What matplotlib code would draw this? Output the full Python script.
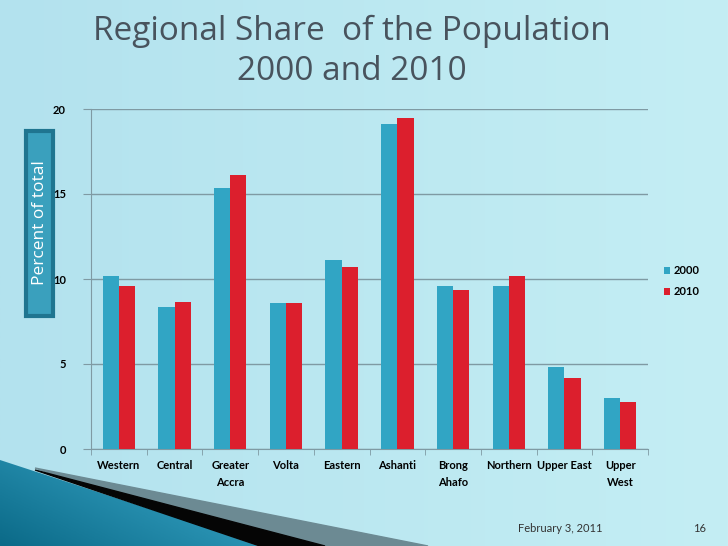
import numpy as np
import matplotlib
matplotlib.use('Agg')
import matplotlib.pyplot as plt
from matplotlib.patches import Rectangle, Polygon

regions = ['Western', 'Central', 'Greater\nAccra', 'Volta', 'Eastern', 'Ashanti',
           'Brong\nAhafo', 'Northern', 'Upper East', 'Upper\nWest']
share_2000 = [10.2, 8.35, 15.35, 8.6, 11.1, 19.1, 9.6, 9.6, 4.85, 3.0]
share_2010 = [9.6, 8.65, 16.1, 8.6, 10.7, 19.5, 9.35, 10.2, 4.2, 2.75]
yticks = [0, 5, 10, 15, 20]

plt.rcParams['font.family'] = ['Lato', 'DejaVu Sans']

fig = plt.figure(figsize=(7.28, 5.46), dpi=100)
W, H = 728, 546

# slide background (soft gradient)
bg = fig.add_axes([0, 0, 1, 1], zorder=-10)
grad = np.linspace(0, 1, 256).reshape(1, -1)
bg.imshow(grad, extent=[0, W, H, 0], aspect='auto',
          cmap=matplotlib.colors.LinearSegmentedColormap.from_list('bgc', ['#b3e2ee', '#c4eef4']))
bg.set_xlim(0, W)
bg.set_ylim(H, 0)
bg.axis('off')

# decorative swoosh bottom-left
bg.add_patch(Polygon([(35, 468), (428, 546), (260, 546)], closed=True, color='#6c8a93'))
bg.add_patch(Polygon([(35, 470), (325, 546), (260, 546)], closed=True, color='#050505'))
blue = Polygon([(0, 460), (0, 546), (263, 546)], closed=True, facecolor='none', edgecolor='none')
bg.add_patch(blue)
yy, xx = np.mgrid[0:1:100j, 0:1:100j]
sw = bg.imshow(xx * 0.6 + (1 - yy) * 0.4, extent=[0, 263, 546, 460], aspect='auto',
               cmap=matplotlib.colors.LinearSegmentedColormap.from_list('sw', ['#0b6a88', '#3eaed0']))
sw.set_clip_path(blue)
bg.set_xlim(0, W)
bg.set_ylim(H, 0)

# title
tfont = ['Open Sans', 'DejaVu Sans']
bg.text(352, 31, 'Regional Share  of the Population', ha='center', va='center',
        fontsize=24, color='#48535d', family=tfont)
bg.text(352, 71, '2000 and 2010', ha='center', va='center',
        fontsize=24, color='#48535d', family=tfont)

# y label box
bg.add_patch(Rectangle((26, 131), 27, 185, facecolor='#3aa0bd', edgecolor='#1f7590', lw=3))
bg.text(39.5, 223, 'Percent of total', rotation=90, ha='center', va='center',
        fontsize=12.5, color='white', family=tfont)

# footer
bg.text(560, 528, 'February 3, 2011', ha='center', va='center', fontsize=8, color='#333333')
bg.text(700, 528, '16', ha='center', va='center', fontsize=8, color='#333333')

# chart
ax = fig.add_axes([91 / W, 1 - 449 / H, (648 - 91) / W, (449 - 109) / H])
ax.patch.set_alpha(0)
x = np.arange(len(regions))
bw = 0.29
ax.bar(x - bw / 2, share_2000, bw, color='#31a5c4', label='2000', zorder=3)
ax.bar(x + bw / 2, share_2010, bw, color='#dc1f2d', label='2010', zorder=3)
ax.set_xlim(-0.5, len(regions) - 0.5)
ax.set_ylim(0, 20)
ax.set_yticks(yticks)
ax.set_yticklabels([str(v) for v in yticks], fontsize=8, fontweight='bold')
ax.grid(axis='y', color='#7f9aa3', lw=1, zorder=0)
ax.set_xticks(x)
ax.set_xticklabels(regions, fontsize=8, fontweight='bold', linespacing=1.6, va='top')
ax.set_xticks(np.arange(-0.5, len(regions)), minor=True)
ax.tick_params(axis='x', which='major', length=0, pad=8)
ax.tick_params(axis='x', which='minor', length=4, color='#7f9aa3')
ax.tick_params(axis='y', length=6, color='#7f9aa3', pad=12)
for s in ['top', 'right']:
    ax.spines[s].set_visible(False)
for s in ['left', 'bottom']:
    ax.spines[s].set_color('#7f9aa3')

leg = ax.legend(loc='upper left', bbox_to_anchor=(1.01, 0.57), frameon=False,
                handlelength=0.6, handleheight=0.6, handletextpad=0.3, labelspacing=0.9,
                prop={'size': 8, 'weight': 'bold'})

fig.savefig('out.png', dpi=100)
